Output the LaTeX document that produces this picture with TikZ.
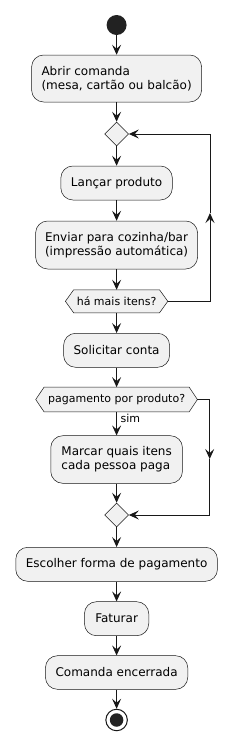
\documentclass[tikz,border=0pt]{standalone}
\usepackage{fontspec}
\setmainfont{DejaVu Sans}
\usetikzlibrary{shapes.geometric,arrows.meta,backgrounds}
\definecolor{fillc}{HTML}{F1F1F1}
\definecolor{linec}{HTML}{181818}
\definecolor{startc}{HTML}{222222}
\begin{document}
\begin{tikzpicture}[x=1pt,y=-1pt,
  act/.style={draw=linec, line width=0.5pt, fill=fillc, rounded corners=12pt,
    align=left, font=\fontsize{12}{14.2}\selectfont, inner sep=0pt, text=black},
  guard/.style={inner sep=0pt, font=\fontsize{11}{13}\selectfont, text=black},
  hexline/.style={draw=linec, line width=0.5pt, fill=fillc},
  merge/.style={diamond, draw=linec, line width=0.5pt, fill=fillc,
    minimum width=24pt, minimum height=24pt, inner sep=0pt},
  flow/.style={draw=linec, line width=1pt, -{Stealth[length=10pt,width=9pt,inset=4pt]}},
  plain/.style={draw=linec, line width=1pt}
]
\useasboundingbox (0,0) rectangle (244,750);

\node[circle, fill=startc, minimum size=20pt, inner sep=0pt] (start) at (116.6,25) {};
\node[act, minimum width=170pt, minimum height=47pt] (a1) at (116.6,78.5) {Abrir comanda\\(mesa, cartão ou balcão)};
\node[merge] (d1) at (116.6,134) {};
\node[act, minimum width=111.5pt, minimum height=34pt] (a2) at (116.6,183) {Lançar produto};
\node[act, minimum width=162pt, minimum height=48pt] (a3) at (116.6,245) {Enviar para cozinha/bar\\(impressão automática)};
\node[guard, minimum width=102pt, minimum height=22.7pt] (h1) at (116.6,301.3) {há mais itens?};
\node[act, minimum width=106pt, minimum height=34pt] (a4) at (116.6,350.3) {Solicitar conta};
\node[guard, minimum width=161.3pt, minimum height=24.3pt] (h2) at (116.6,399.5) {pagamento por produto?};
\node[act, minimum width=131.7pt, minimum height=47.6pt] (a5) at (116.6,459.5) {Marcar quais itens\\cada pessoa paga};
\node[merge] (d2) at (116.6,515) {};
\node[act, minimum width=201.7pt, minimum height=34pt] (a6) at (116.6,564.3) {Escolher forma de pagamento};
\node[act, minimum width=64.3pt, minimum height=34pt] (a7) at (116.6,618.7) {Faturar};
\node[act, minimum width=142.3pt, minimum height=33.6pt] (a8) at (116.6,672.5) {Comanda encerrada};
\node[circle, draw=linec, line width=1pt, fill=white, minimum size=21.5pt, inner sep=0pt] (stop) at (116.6,720) {};
\node[circle, fill=startc, minimum size=13.5pt, inner sep=0pt] (stopin) at (stop.center) {};
\node[font=\fontsize{11}{13}\selectfont, anchor=west, inner sep=0pt, text=black] (sim) at (120.5,418.5) {sim};

\begin{scope}[on background layer]
\fill[white] (0,0) rectangle (244,750);
\draw[hexline] (h1.west) -- ([xshift=8.3pt]h1.north west) -- ([xshift=-8.3pt]h1.north east) -- (h1.east) -- ([xshift=-8.3pt]h1.south east) -- ([xshift=8.3pt]h1.south west) -- cycle;
\draw[hexline] (h2.west) -- ([xshift=8.3pt]h2.north west) -- ([xshift=-8.3pt]h2.north east) -- (h2.east) -- ([xshift=-8.3pt]h2.south east) -- ([xshift=8.3pt]h2.south west) -- cycle;
\end{scope}

\draw[flow] (start) -- (a1);
\draw[flow] (a1) -- (d1);
\draw[flow] (d1) -- (a2);
\draw[flow] (a2) -- (a3);
\draw[flow] (a3) -- (h1.north);
\draw[flow] (h1.south) -- (a4);
\draw[flow] (a4) -- (h2.north);
\draw[flow] (h2.south) -- (a5);
\draw[flow] (a5) -- (d2);
\draw[flow] (d2) -- (a6);
\draw[flow] (a6) -- (a7);
\draw[flow] (a7) -- (a8);
\draw[flow] (a8) -- (stop);

\coordinate (lu) at (210,213);
\draw[flow] (h1.east) -- (h1.east -| lu) -- (lu);
\draw[flow] (lu) -- (lu |- d1.east) -- (d1.east);

\coordinate (rd) at (209.7,459);
\draw[flow] (h2.east) -- (h2.east -| rd) -- (rd);
\draw[flow] (rd) -- (rd |- d2.east) -- (d2.east);
\end{tikzpicture}
\end{document}
